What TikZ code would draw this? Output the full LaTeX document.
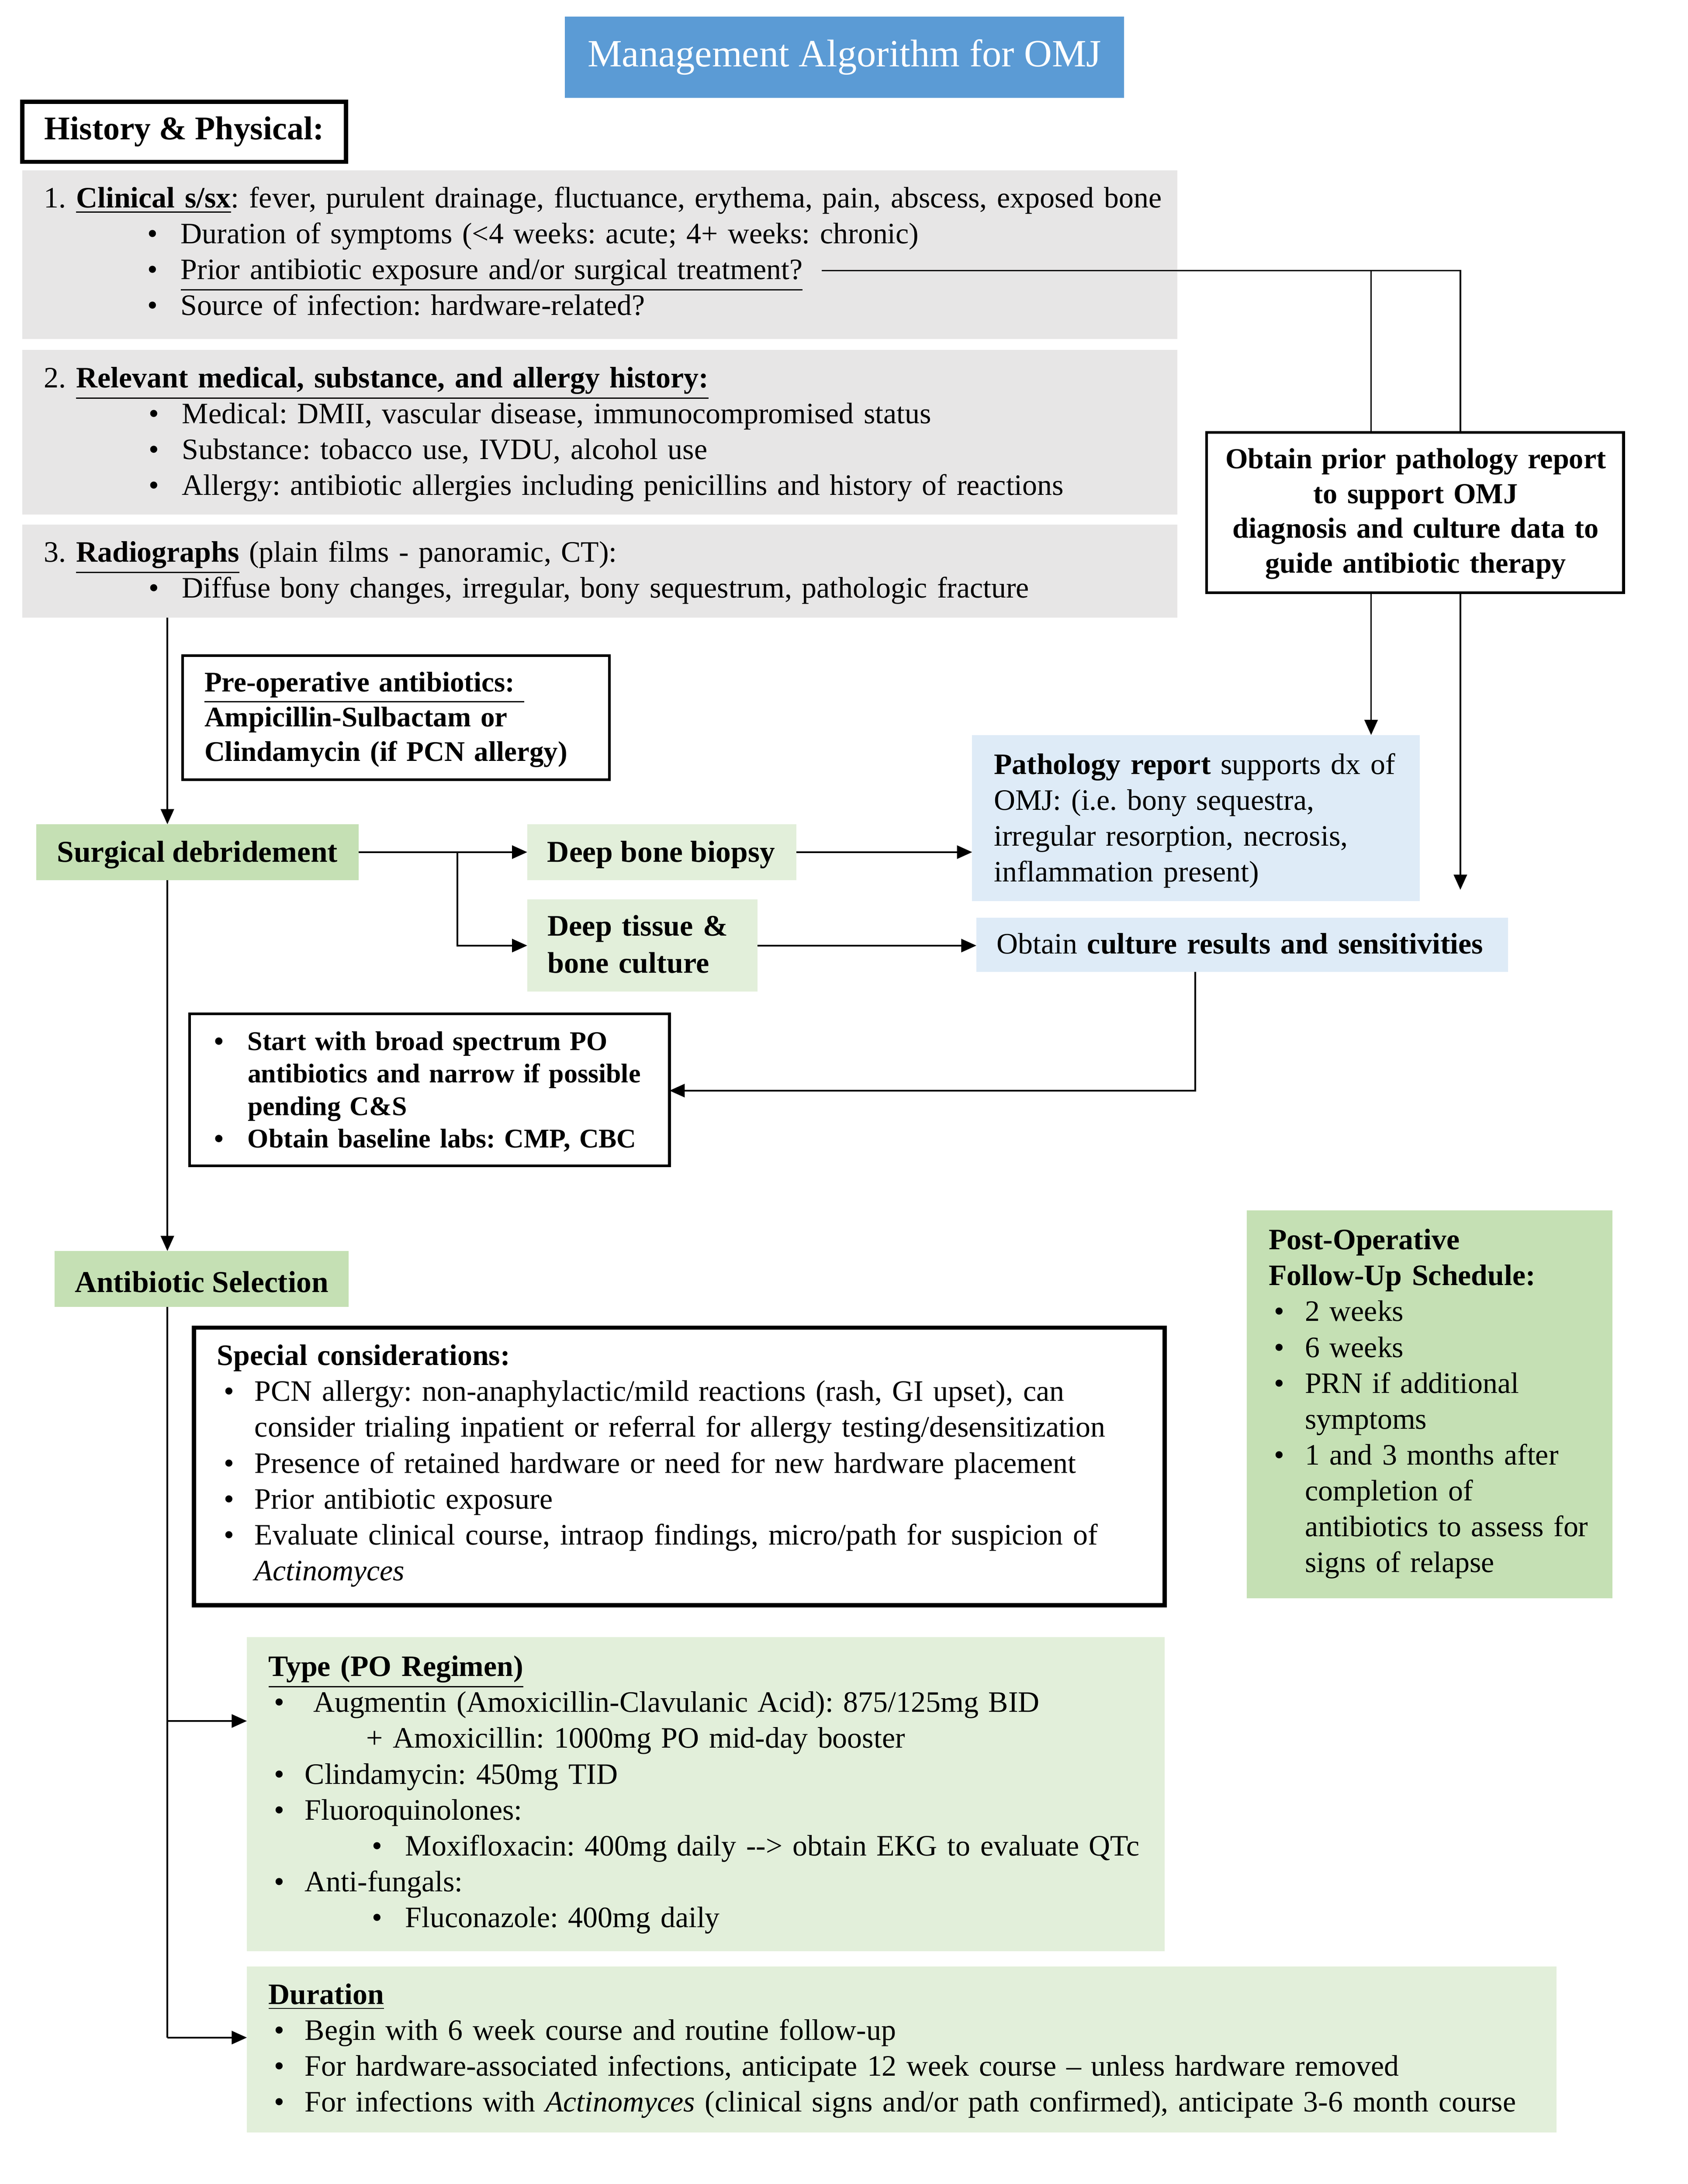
\documentclass[tikz,border=0pt]{standalone}
\usepackage{fontspec}
\setmainfont{Liberation Serif}
\usetikzlibrary{arrows.meta,fit}
\definecolor{titleblue}{HTML}{5B9BD5}
\definecolor{hpgray}{HTML}{E7E6E6}
\definecolor{dgreen}{HTML}{C5E0B4}
\definecolor{lgreen}{HTML}{E2EFDA}
\definecolor{lblue}{HTML}{DEEBF7}
\newcommand\hs[1]{\hspace*{\dimexpr0.50579pt*#1\relax}}
\newcommand\bu[1]{\makebox[\dimexpr0.50579pt*#1\relax][l]{\textbullet}}
\newcommand\nf{\fontsize{10.75}{13}\selectfont}
\begin{document}
\frenchspacing
\begin{tikzpicture}[x=0.50579pt,y=-0.50579pt,
  line width=0.6pt,
  area/.style={inner sep=0pt, outer sep=0pt},
  framed/.style={area, draw, line width=1pt},
  thickframed/.style={area, draw, line width=1.5pt},
  txt/.style={inner sep=0pt, anchor=base west, align=left, text width=580pt, font=\nf},
  ctxt/.style={inner sep=0pt, anchor=center, font=\fontsize{11}{13}\selectfont\bfseries},
  arr/.style={-{Triangle[length=5.5pt,width=4.8pt]}}]
\fill[white] (0,0) rectangle (1210,1566);
\useasboundingbox (0,0) rectangle (1210,1566);

% title
\node[area, fill=titleblue, fit={(405,12)(806,70)}] (title) {};
\node[inner sep=0pt, text=white, font=\fontsize{14}{16}\selectfont] (titlet) at (title.center) {Management Algorithm for OMJ};

% history & physical
\node[thickframed, fit={(16,73)(248,116)}] (hp) {};
\node[inner sep=0pt, font=\fontsize{12}{14}\selectfont\bfseries] (hpt) at (hp.center) {History \& Physical:};

\node[area, fill=hpgray, fit={(16,122)(844,243)}] (g1) {};
\node[txt] (g1t) at (31,149) {1. \textbf{\underline{Clinical s/sx}}: fever, purulent drainage, fluctuance, erythema, pain, abscess, exposed bone\\
\hs{74}\bu{24}Duration of symptoms (<4 weeks: acute; 4+ weeks: chronic)\\
\hs{74}\bu{24}\underline{Prior antibiotic exposure and/or surgical treatment?}\\
\hs{74}\bu{24}Source of infection: hardware-related?};

\node[area, fill=hpgray, fit={(16,251)(844,369)}] (g2) {};
\node[txt] (g2t) at (31,278) {2. \textbf{\underline{Relevant medical, substance, and allergy history:}}\\
\hs{75}\bu{24}Medical: DMII, vascular disease, immunocompromised status\\
\hs{75}\bu{24}Substance: tobacco use, IVDU, alcohol use\\
\hs{75}\bu{24}Allergy: antibiotic allergies including penicillins and history of reactions};

\node[area, fill=hpgray, fit={(16,376)(844,443)}] (g3) {};
\node[txt] (g3t) at (31,403) {3. \textbf{\underline{Radiographs}} (plain films - panoramic, CT):\\
\hs{75}\bu{24}Diffuse bony changes, irregular, bony sequestrum, pathologic fracture};

% prior pathology
\node[framed, fit={(865,310)(1164,425)}] (prior) {};
\node[inner sep=0pt, anchor=base, align=center, text width=150pt, font=\fontsize{10.5}{12.6}\selectfont\bfseries] (priort) at (1015,336) {Obtain prior pathology report\\to support OMJ\\diagnosis and culture data to\\guide antibiotic therapy};

% pre-op
\node[framed, fit={(131,470)(437,559)}] (preop) {};
\node[txt, font=\fontsize{10.3}{12.6}\selectfont\bfseries] (preopt) at (146,496) {\underline{Pre-operative antibiotics: }\\Ampicillin-Sulbactam or\\Clindamycin (if PCN allergy)};

% surgical row
\node[area, fill=dgreen, fit={(26,591)(257,631)}] (surg) {};
\node[ctxt] (surgt) at (141.5,613) {Surgical debridement};
\node[area, fill=lgreen, fit={(378,591)(571,631)}] (biopsy) {};
\node[ctxt] (biopsyt) at (474,613) {Deep bone biopsy};
\node[area, fill=lgreen, fit={(378,645)(543,711)}] (tissue) {};
\node[txt, font=\fontsize{10.8}{13.5}\selectfont\bfseries] (tissuet) at (392,671) {Deep tissue \&\\bone culture};
\node[area, fill=lblue, fit={(697,527)(1018,646)}] (path) {};
\node[txt] (patht) at (712,555) {\textbf{Pathology report} supports dx of\\OMJ: (i.e. bony sequestra,\\irregular resorption, necrosis,\\inflammation present)};
\node[area, fill=lblue, fit={(700,658)(1081,697)}] (cult) {};
\node[txt] (cultt) at (714,684) {Obtain \textbf{culture results and sensitivities}};

% start box
\node[framed, fit={(136,727)(480,836)}] (start) {};
\node[txt, font=\fontsize{9.8}{11.8}\selectfont\bfseries] (startt) at (153,753) {\bu{24}Start with broad spectrum PO\\
\hs{24}antibiotics and narrow if possible\\
\hs{24}pending C\&S\\
\bu{24}Obtain baseline labs: CMP, CBC};

% antibiotic selection
\node[area, fill=dgreen, fit={(39,897)(250,937)}] (anti) {};
\node[ctxt] (antit) at (144.5,919) {Antibiotic Selection};

% special considerations
\node[thickframed, fit={(139,952)(835,1151)}] (spec) {};
\node[txt] (spect) at (155,979) {\textbf{Special considerations:}\\
\hs{5}\bu{22}PCN allergy: non-anaphylactic/mild reactions (rash, GI upset), can\\
\hs{27}consider trialing inpatient or referral for allergy testing/desensitization\\
\hs{5}\bu{22}Presence of retained hardware or need for new hardware placement\\
\hs{5}\bu{22}Prior antibiotic exposure\\
\hs{5}\bu{22}Evaluate clinical course, intraop findings, micro/path for suspicion of\\
\hs{27}\textit{Actinomyces}};

% post-op
\node[area, fill=dgreen, fit={(894,868)(1156,1146)}] (post) {};
\node[txt] (postt) at (909,896) {\textbf{Post-Operative}\\
\textbf{Follow-Up Schedule:}\\
\hs{4}\bu{22}2 weeks\\
\hs{4}\bu{22}6 weeks\\
\hs{4}\bu{22}PRN if additional\\
\hs{26}symptoms\\
\hs{4}\bu{22}1 and 3 months after\\
\hs{26}completion of\\
\hs{26}antibiotics to assess for\\
\hs{26}signs of relapse};

% type
\node[area, fill=lgreen, fit={(177,1174)(835,1399)}] (type) {};
\node[txt] (typet) at (192,1202) {\textbf{\underline{Type (PO Regimen)}}\\
\hs{4}\bu{28}Augmentin (Amoxicillin-Clavulanic Acid): 875/125mg BID\\
\hs{70}+ Amoxicillin: 1000mg PO mid-day booster\\
\hs{4}\bu{22}Clindamycin: 450mg TID\\
\hs{4}\bu{22}Fluoroquinolones:\\
\hs{74}\bu{24}Moxifloxacin: 400mg daily -{}-> obtain EKG to evaluate QTc\\
\hs{4}\bu{22}Anti-fungals:\\
\hs{74}\bu{24}Fluconazole: 400mg daily};

% duration
\node[area, fill=lgreen, fit={(177,1410)(1116,1529)}] (dur) {};
\node[txt] (durt) at (192,1437) {\textbf{\underline{Duration}}\\
\hs{4}\bu{22}Begin with 6 week course and routine follow-up\\
\hs{4}\bu{22}For hardware-associated infections, anticipate 12 week course \textendash{} unless hardware removed\\
\hs{4}\bu{22}For infections with \textit{Actinomyces} (clinical signs and/or path confirmed), anticipate 3-6 month course};

% ---------- connectors ----------
\coordinate (p0) at (589,194);
\coordinate (p1) at (1047,194);
\coordinate (p2) at (983,194);
\coordinate (p3) at (1047,638);
\draw (p0) -- (p1) -- (prior.north -| p1);
\draw (p2) -- (prior.north -| p2);
\draw[arr] (prior.south -| p2) -- (path.north -| p2);
\draw[arr] (prior.south -| p1) -- (p3);

\coordinate (v0) at (120,443);
\draw[arr] (v0) -- (v0 |- surg.north);
\coordinate (br) at (328,611);
\draw[arr] (surg.east |- br) -- (biopsy.west |- br);
\draw[arr] (br) |- (tissue.west);
\draw[arr] (biopsy.east) -- (biopsy.east -| path.west);
\draw[arr] (tissue.east) -- (tissue.east -| cult.west);
\coordinate (c1) at (857,782);
\draw[arr] (c1 |- cult.south) -- (c1) -- (c1 -| start.east);

\draw[arr] (surg.south -| v0) -- (v0 |- anti.north);
\coordinate (a1) at (120,1234);
\coordinate (a2) at (120,1461);
\draw (anti.south -| v0) -- (a2);
\draw[arr] (a1) -- (a1 -| type.west);
\draw[arr] (a2) -- (a2 -| dur.west);
\end{tikzpicture}
\end{document}
